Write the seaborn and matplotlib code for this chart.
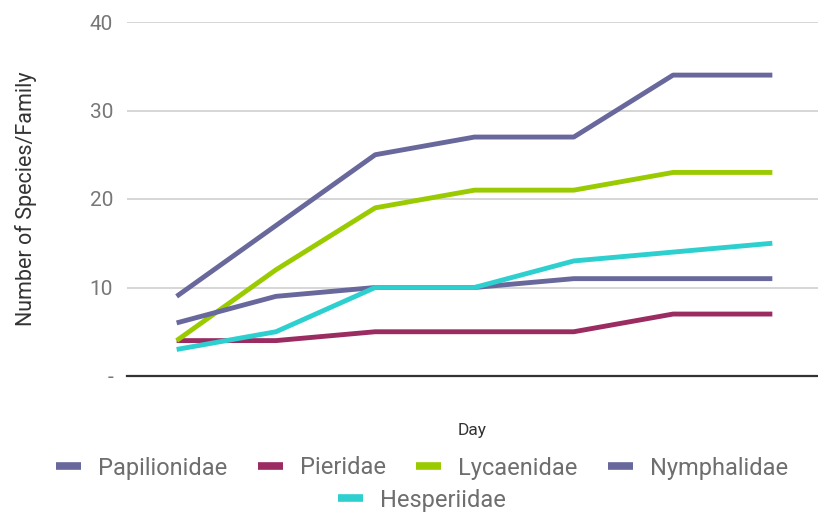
import matplotlib
matplotlib.use("Agg")
import matplotlib.pyplot as plt
from matplotlib.lines import Line2D
import seaborn as sns
import pandas as pd

days = [1, 2, 3, 4, 5, 6, 7]
families = ["Papilionidae", "Pieridae", "Lycaenidae", "Nymphalidae", "Hesperiidae"]
papilionidae = [9, 17, 25, 27, 27, 34, 34]
pieridae = [4, 4, 5, 5, 5, 7, 7]
lycaenidae = [4, 12, 19, 21, 21, 23, 23]
nymphalidae = [6, 9, 10, 10, 11, 11, 11]
hesperiidae = [3, 5, 10, 10, 13, 14, 15]
y_ticks = [0, 10, 20, 30, 40]
y_tick_labels = ["-", "10", "20", "30", "40"]

colors = {
    "Papilionidae": "#68689c",
    "Pieridae": "#9a2c62",
    "Lycaenidae": "#9acb00",
    "Nymphalidae": "#68689c",
    "Hesperiidae": "#2ecfcf",
}

series = [papilionidae, pieridae, lycaenidae, nymphalidae, hesperiidae]
df = pd.DataFrame(
    [(d, fam, v) for fam, vals in zip(families, series) for d, v in zip(days, vals)],
    columns=["Day", "Family", "Count"],
)

sns.set_theme(style="white")
plt.rcParams["font.family"] = ["Roboto", "DejaVu Sans"]

fig = plt.figure(figsize=(8.18, 5.16), dpi=100)
ax = fig.add_axes([127 / 818, 140 / 516, 691 / 818, 354 / 516])

sns.lineplot(
    data=df, x="Day", y="Count", hue="Family", hue_order=families,
    palette=colors, linewidth=3.5, legend=False, ax=ax,
)
for ln in ax.lines:
    ln.set_solid_capstyle("butt")
    ln.set_solid_joinstyle("round")

ax.set_xlim(0.5, 7.46)
ax.set_ylim(0, 40)
ax.set_yticks(y_ticks)
ax.set_yticklabels(y_tick_labels)
ax.set_xticks([])
ax.tick_params(axis="y", length=0, pad=10, labelsize=15, labelcolor="#777777")
ax.yaxis.grid(True, color="#cccccc", linewidth=1.1)
ax.set_axisbelow(True)
for side in ["top", "right", "left"]:
    ax.spines[side].set_visible(False)
ax.spines["bottom"].set_color("#333333")
ax.spines["bottom"].set_linewidth(1.6)

ax.set_ylabel("Number of Species/Family", fontsize=15.5, color="#333333", labelpad=38)
ax.set_xlabel("Day", fontsize=12.5, color="#333333", labelpad=34)

handles = [Line2D([], [], color=colors[f], linewidth=5.5, solid_capstyle="butt") for f in families]
legend_kw = dict(
    frameon=False, fontsize=17, handlelength=1.05, handletextpad=0.72,
    columnspacing=1.3, labelcolor="#6e6e6e", borderpad=0, borderaxespad=0,
)
fig.legend(
    handles[:4], families[:4], loc="center", bbox_to_anchor=(422 / 818, 1 - 468 / 516),
    ncol=4, **legend_kw,
)
fig.legend(
    handles[4:], families[4:], loc="center", bbox_to_anchor=(422 / 818, 1 - 500 / 516),
    ncol=1, **legend_kw,
)

fig.savefig("out.png", dpi=100)
